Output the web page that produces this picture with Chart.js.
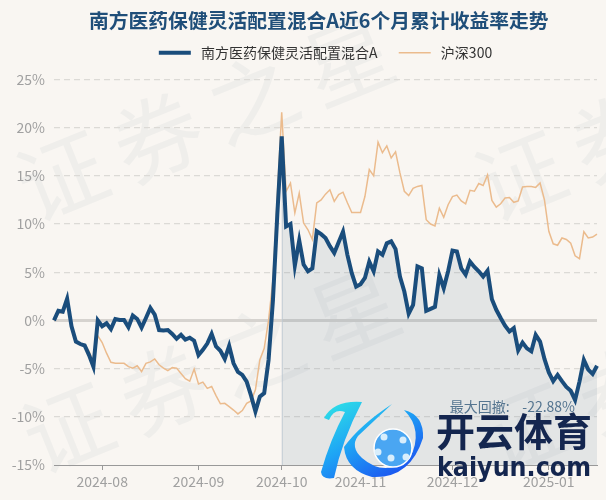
<!DOCTYPE html>
<html>
<head>
<meta charset="utf-8">
<title>南方医药保健灵活配置混合A</title>
<script src="https://cdn.jsdelivr.net/npm/chart.js@4"></script>
<style>
  html, body { margin: 0; padding: 0; background: #f9f6f2; }
  canvas { display: block; }
</style>
</head>
<body>
<canvas id="returnCanvas" width="606" height="500"></canvas>
<script>
// Trading days, month by month
const dates = [
  '2024-07-17','2024-07-18','2024-07-19','2024-07-22','2024-07-23','2024-07-24','2024-07-25','2024-07-26','2024-07-29','2024-07-30','2024-07-31',
  '2024-08-01','2024-08-02','2024-08-05','2024-08-06','2024-08-07','2024-08-08','2024-08-09','2024-08-12','2024-08-13','2024-08-14','2024-08-15','2024-08-16','2024-08-19','2024-08-20','2024-08-21','2024-08-22','2024-08-23','2024-08-26','2024-08-27','2024-08-28','2024-08-29','2024-08-30',
  '2024-09-02','2024-09-03','2024-09-04','2024-09-05','2024-09-06','2024-09-09','2024-09-10','2024-09-11','2024-09-12','2024-09-13','2024-09-18','2024-09-19','2024-09-20','2024-09-23','2024-09-24','2024-09-25','2024-09-26','2024-09-27','2024-09-30',
  '2024-10-08','2024-10-09','2024-10-10','2024-10-11','2024-10-14','2024-10-15','2024-10-16','2024-10-17','2024-10-18','2024-10-21','2024-10-22','2024-10-23','2024-10-24','2024-10-25','2024-10-28','2024-10-29','2024-10-30','2024-10-31',
  '2024-11-01','2024-11-04','2024-11-05','2024-11-06','2024-11-07','2024-11-08','2024-11-11','2024-11-12','2024-11-13','2024-11-14','2024-11-15','2024-11-18','2024-11-19','2024-11-20','2024-11-21','2024-11-22','2024-11-25','2024-11-26','2024-11-27','2024-11-28','2024-11-29',
  '2024-12-02','2024-12-03','2024-12-04','2024-12-05','2024-12-06','2024-12-09','2024-12-10','2024-12-11','2024-12-12','2024-12-13','2024-12-16','2024-12-17','2024-12-18','2024-12-19','2024-12-20','2024-12-23','2024-12-24','2024-12-25','2024-12-26','2024-12-27','2024-12-30','2024-12-31',
  '2025-01-02','2025-01-03','2025-01-06','2025-01-07','2025-01-08','2025-01-09','2025-01-10','2025-01-13','2025-01-14','2025-01-15','2025-01-16','2025-01-17'
];

// Dates that get a tick on the x axis
const monthStarts = ['2024-08-01','2024-09-02','2024-10-08','2024-11-01','2024-12-02','2025-01-02'];

// Percent ticks on the y axis
const yTicks = [25, 20, 15, 10, 5, 0, -5, -10, -15];

const fundName = '南方医药保健灵活配置混合A';
const indexName = '沪深300';

const fundValues = [
  0, 1.0, 0.9, 2.25, -0.6, -2.2, -2.45, -2.6, -3.6, -4.8,
  0, -0.6, -0.3, -0.9, 0.15, 0.05, 0.05, -0.7, 0.5, 0.15,
  -0.75, 0.25, 1.3, 0.6, -1.0, -1.05, -1.0, -1.4, -1.9, -1.5,
  -2.0, -1.8, -2.1, -3.6, -3.05, -2.4, -1.4, -2.7, -3.15, -4.0,
  -2.65, -4.45, -5.35, -5.65, -6.35, -7.8, -9.45, -7.9, -7.55, -4.1,
  2.1, 11, 19.1, 9.75, 10.0, 5.7, 8.3, 5.8, 5.1, 5.4,
  9.25, 8.95, 8.55, 7.7, 7.0, 8.1, 9.2, 6.8, 4.9, 3.5,
  3.75, 4.4, 6.1, 5.1, 7.15, 6.8, 8.0, 8.2, 7.4, 4.55,
  3.0, 0.7, 1.6, 5.6, 5.4, 1.0, 1.2, 1.4, 4.7, 3.35,
  5.1, 7.25, 7.15, 5.4, 4.75, 6.1, 5.55, 5.1, 4.55, 5.15,
  2.2, 1.1, 0.25, -0.55, -1.15, -0.8, -3.1, -2.3, -2.9, -3.2,
  -1.5, -2.2, -4.0, -5.4, -6.3, -5.65, -6.3, -6.9, -7.3, -8.25,
  -6.35, -4.1, -5.1, -5.55, -4.7
];

const indexValues = [
  0, 0.8, 0.8, 2.0, -0.9, -2.3, -2.5, -2.5, -3.2, -4.3,
  -1.6, -2.3, -3.4, -4.35, -4.45, -4.45, -4.45, -4.8, -4.95, -4.7,
  -5.3, -4.45, -4.3, -4.0, -4.6, -4.95, -5.2, -4.9, -4.95, -5.5,
  -6.05, -6.3, -5.05, -6.6, -6.4, -7.05, -6.85, -7.8, -8.65, -8.6,
  -8.95, -9.3, -9.7, -9.35, -8.6, -8.35, -7.2, -4.1, -2.9, 0,
  4.2, 13, 21.6, 13.4, 14.25, 11.15, 13.2, 10.1, 9.4, 8.4,
  12.2, 12.5, 13.1, 13.55, 12.35, 13.05, 13.3, 12.2, 11.2, 11.2,
  11.2, 12.85, 15.65, 15.0, 18.5, 17.4, 18.1, 16.85, 17.5, 15.3,
  13.4, 12.95, 13.7, 13.9, 14.0, 10.45, 10.0, 9.8, 11.65, 10.7,
  12.0, 12.85, 13.0, 12.4, 12.1, 13.5, 13.4, 14.2, 14.0, 15.1,
  12.45, 11.75, 12.1, 12.7, 12.75, 12.25, 12.4, 13.85, 13.9, 13.9,
  13.8, 14.25, 12.5, 9.25, 7.95, 7.8, 8.55, 8.4, 8.0, 6.7,
  6.4, 9.2, 8.55, 8.65, 8.95
];

// Shaded stretch of the fund line starts here
const shadeStart = '2024-10-08';
const drawdownText = '最大回撤:    -22.88%';

const cnFont = '"Noto Sans CJK SC", "Noto Sans", sans-serif';

// Big tilted background text
const backgroundMarks = {
  id: 'backgroundMarks',
  beforeDraw(chart) {
    const c = chart.ctx;
    c.save();
    c.fillStyle = '#f9f6f2';
    c.fillRect(0, 0, chart.width, chart.height);
    c.fillStyle = '#efeeeb';
    c.font = '88px ' + cnFont;
    c.letterSpacing = '15px';
    c.textBaseline = 'middle';
    [[21, 192], [27, 444], [479, 192], [485, 444]].forEach(([x, y]) => {
      c.save();
      c.translate(x, y);
      c.rotate(-22 * Math.PI / 180);
      c.fillText('证券之星', 0, 0);
      c.restore();
    });
    c.restore();
  },
  // thin edge on the left of the shaded area
  beforeDatasetsDraw(chart) {
    const c = chart.ctx;
    const x = chart.scales.x.getPixelForValue(dates.indexOf(shadeStart));
    c.save();
    c.strokeStyle = '#cfd6dc';
    c.lineWidth = 1;
    c.beginPath();
    c.moveTo(x + 0.5, chart.scales.y.getPixelForValue(fundValues[dates.indexOf(shadeStart)]));
    c.lineTo(x + 0.5, chart.chartArea.bottom);
    c.stroke();
    c.restore();
  }
};

// Drawdown note and the logo stamped over the corner
const cornerStamp = {
  id: 'cornerStamp',
  afterDraw(chart) {
    const c = chart.ctx;
    c.save();
    c.fillStyle = '#557590';
    c.font = '14px ' + cnFont;
    c.textAlign = 'right';
    c.textBaseline = 'middle';
    c.fillText(drawdownText, 575, 407);

    // K swooshes
    const g = c.createLinearGradient(330, 400, 380, 485);
    g.addColorStop(0, '#2fe3e6');
    g.addColorStop(0.5, '#1ea4f5');
    g.addColorStop(1, '#1c56f0');
    c.fillStyle = g;
    c.beginPath();
    c.moveTo(324, 418);
    c.quadraticCurveTo(334, 400, 362, 402);
    c.quadraticCurveTo(342, 440, 334, 478);
    c.quadraticCurveTo(322, 480, 321, 472);
    c.quadraticCurveTo(330, 440, 345, 412);
    c.quadraticCurveTo(334, 408, 329, 420);
    c.closePath();
    c.fill();
    c.beginPath();
    c.moveTo(392, 404);
    c.quadraticCurveTo(360, 425, 344, 447);
    c.quadraticCurveTo(346, 470, 372, 477);
    c.quadraticCurveTo(410, 479, 423, 438);
    c.quadraticCurveTo(424, 415, 404, 410);
    c.quadraticCurveTo(424, 430, 410, 458);
    c.quadraticCurveTo(385, 478, 362, 458);
    c.quadraticCurveTo(350, 447, 358, 436);
    c.closePath();
    c.fill();

    // ball
    c.fillStyle = '#4aa6f2';
    c.strokeStyle = '#ffffff';
    c.lineWidth = 1.5;
    c.beginPath();
    c.arc(393, 448, 19, 0, Math.PI * 2);
    c.fill();
    c.stroke();
    c.fillStyle = '#d8eefc';
    [[384, 437], [403, 440], [391, 458], [378, 452], [406, 457]].forEach(([x, y]) => {
      c.beginPath();
      c.arc(x, y, 3.5, 0, Math.PI * 2);
      c.fill();
    });

    c.fillStyle = '#14264f';
    c.textAlign = 'left';
    c.textBaseline = 'alphabetic';
    c.font = 'bold 39px ' + cnFont;
    c.fillText('开云体育', 436, 446);
    c.font = 'bold 27px "DejaVu Sans", sans-serif';
    c.fillText('kaiyun.com', 437, 476, 154);
    c.restore();
  }
};

new Chart(document.getElementById('returnCanvas'), {
  type: 'line',
  data: {
    labels: dates,
    datasets: [
      {
        label: fundName,
        data: fundValues,
        borderColor: '#1a4d7c',
        backgroundColor: '#1a4d7c',
        borderWidth: 4,
        pointRadius: 0,
        tension: 0,
        order: 1
      },
      {
        label: indexName,
        data: indexValues,
        borderColor: '#ebbb8d',
        backgroundColor: '#ebbb8d',
        borderWidth: 1.5,
        pointRadius: 0,
        tension: 0,
        order: 2
      },
      {
        // shading under the fund line, hidden from the legend
        label: 'shade',
        data: fundValues.map((v, i) => (i < dates.indexOf(shadeStart) ? null : v)),
        borderWidth: 0,
        pointRadius: 0,
        tension: 0,
        fill: 'start',
        backgroundColor: 'rgba(100, 130, 155, 0.14)',
        order: 3
      }
    ]
  },
  options: {
    responsive: false,
    animation: false,
    layout: { padding: { left: 0, right: 9, top: 0, bottom: 0 } },
    plugins: {
      title: {
        display: true,
        fullSize: false,
        // trailing spaces pull the title a little left of the plot centre
        text: '南方医药保健灵活配置混合A近6个月累计收益率走势   ',
        color: '#1f4e79',
        font: { family: cnFont, size: 19.8, weight: 'bold', lineHeight: 1 },
        padding: { top: 11, bottom: 0 }
      },
      legend: {
        display: true,
        fullSize: false,
        labels: {
          color: '#333333',
          font: { family: cnFont, size: 14 },
          padding: 15,
          usePointStyle: true,
          pointStyleWidth: 32,
          generateLabels(chart) {
            return chart.data.datasets.slice(0, 2).map((ds, i) => ({
              text: i === 0 ? ' ' + ds.label + '  ' : ' ' + ds.label,
              strokeStyle: ds.borderColor,
              fillStyle: ds.borderColor,
              fontColor: '#333333',
              lineWidth: ds.borderWidth,
              pointStyle: 'line',
              datasetIndex: i
            }));
          }
        }
      },
      tooltip: { enabled: false }
    },
    scales: {
      x: {
        afterFit(scale) { scale.height = 35; },
        afterBuildTicks(scale) {
          scale.ticks = scale.ticks.filter(t => monthStarts.includes(dates[t.value]));
        },
        grid: { drawOnChartArea: false, drawTicks: true, tickLength: 5, tickColor: '#999999' },
        border: { color: '#999999', width: 1 },
        ticks: {
          autoSkip: false,
          maxRotation: 0,
          color: '#a0a0a0',
          padding: 3,
          font: { family: cnFont, size: 14 },
          callback(value) { return dates[value].slice(0, 7); }
        }
      },
      y: {
        min: -15,
        max: 26,
        afterFit(scale) { scale.width = 54; },
        afterBuildTicks(scale) {
          scale.ticks = yTicks.map(v => ({ value: v }));
        },
        grid: {
          drawTicks: false,
          color: ctx => (ctx.tick.value === 0 ? '#d6d3cf' : ctx.tick.value === -15 ? 'rgba(0,0,0,0)' : '#dcdad6'),
          lineWidth: ctx => (ctx.tick.value === 0 ? 3 : 1.3)
        },
        border: {
          display: false,
          dash: ctx => (ctx.tick.value === 0 ? [] : [6, 4])
        },
        ticks: {
          color: '#a0a0a0',
          padding: 9,
          font: { family: cnFont, size: 14 },
          callback(value) { return value + '%'; }
        }
      }
    }
  },
  plugins: [backgroundMarks, cornerStamp]
});
</script>
</body>
</html>
